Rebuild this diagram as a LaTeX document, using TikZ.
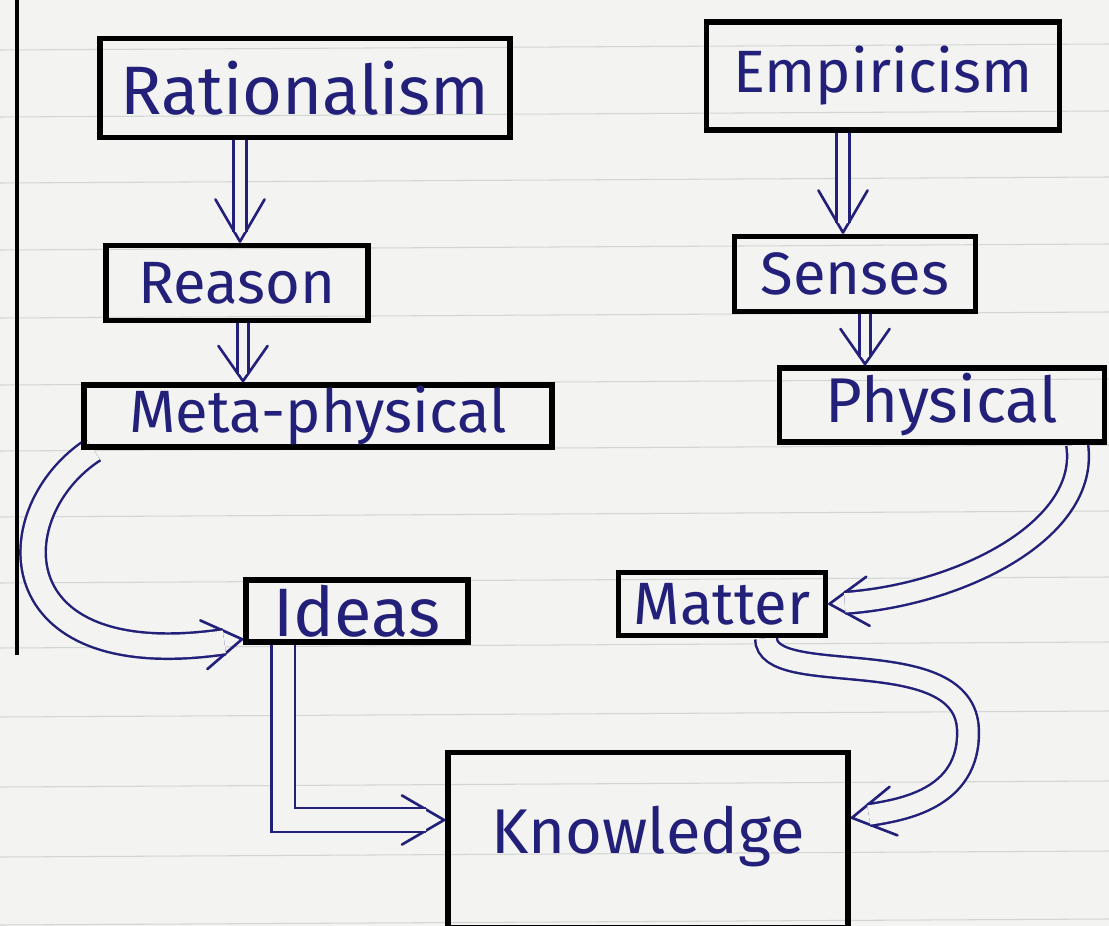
\documentclass[tikz,border=0pt]{standalone}
\usepackage{fontspec}
\setmainfont{Fira Sans}
\usetikzlibrary{arrows.meta,calc}
\definecolor{ink}{HTML}{23207A}
\definecolor{paper}{HTML}{F3F3F1}
\definecolor{ruleline}{HTML}{D3D7D4}
\pgfdeclarelayer{paperlayer}
\pgfdeclarelayer{arrowlayer}
\pgfsetlayers{paperlayer,arrowlayer,main}
\begin{document}
\begin{tikzpicture}[x=0.02cm,y=-0.02cm,
  box/.style={draw=black, line width=3pt, text=ink, inner sep=0pt, font=\fontsize{34}{36}\selectfont},
  big/.style={font=\fontsize{39}{41}\selectfont},
  dbl/.style n args={3}{draw=paper, line width=0.4pt,
    -{Straight Barb[round,color=ink,length=#1,width=28pt,line width=1.5pt]},
    postaction={draw=ink, line width=1.4pt, double=paper, double distance=#2, arrows=-, shorten >=#3}}]
\useasboundingbox (0,0) rectangle (1109,926);
\clip (0,0) rectangle (1109,926);
\begin{pgfonlayer}{paperlayer}
\fill[paper] (0,0) rectangle (1109,926);
\foreach \y in {50,117,183,250,318,385,451,517,583,648,717,787,857,925}
  \draw[ruleline, line width=0.6pt] (0,\y) -- (1109,\y-6);
\draw[black, line width=2.2pt] (17,0) -- (17,655);
\end{pgfonlayer}

\node[box, big, minimum width=8.2cm, minimum height=1.98cm] (rat) at (305,88) {Rationalism};
\node[box, minimum width=7.06cm, minimum height=2.16cm] (emp) at (883,76) {Empiricism};
\node[box, minimum width=5.24cm, minimum height=1.5cm] (reason) at (237,283) {Reason};
\node[box, minimum width=4.82cm, minimum height=1.5cm] (senses) at (855,274) {Senses};
\node[box, minimum width=9.36cm, minimum height=1.24cm] (meta) at (318,416) {Meta-physical};
\node[box, font=\fontsize{36}{38}\selectfont, minimum width=6.5cm, minimum height=1.48cm] (phys) at (942,405) {Physical};
\node[box, big, minimum width=4.44cm, minimum height=1.24cm] (ideas) at (357,611) {Ideas};
\node[box, minimum width=4.14cm, minimum height=1.26cm] (matter) at (722,604) {Matter};
\node[box, font=\fontsize{36}{38}\selectfont, minimum width=8cm, minimum height=3.5cm] (know) at (648,840) {\raisebox{0.4cm}{Knowledge}};

\begin{pgfonlayer}{arrowlayer}
\draw[dbl={24pt}{6pt}{6pt}] ($(rat.south)+(-65,0)$) -- ($(reason.north)+(3,0)$);
\draw[dbl={20pt}{5pt}{4.5pt}] ($(reason.south)+(6,0)$) -- ($(meta.north)+(-75,0)$);
\draw[dbl={24pt}{6pt}{6pt}] ($(emp.south)+(-40,0)$) -- ($(senses.north)+(-12,0)$);
\draw[dbl={20pt}{5pt}{4.5pt}] ($(senses.south)+(10,0)$) -- ($(phys.north)+(-77,0)$);
\draw[dbl={22pt}{13pt}{11pt}] ($(meta.south west)+(12,0)$) .. controls (0,510) and (-5,675) .. ($(ideas.west)+(0,28)$);
\draw[dbl={22pt}{11pt}{9.5pt}] ($(phys.south east)+(-30,0)$) .. controls (1090,530) and (960,595) .. (matter.east);
\draw[dbl={24pt}{12pt}{11pt}] ($(ideas.south west)+(40,0)$) |- ($(know.west)+(0,-20)$);
\draw[dbl={24pt}{11pt}{10.5pt}] ($(matter.south)+(44,0)$) .. controls (766,690) and (965,640) .. (968,730) .. controls (970,800) and (900,810) .. ($(know.east)+(0,-22)$);
\end{pgfonlayer}
\end{tikzpicture}
\end{document}
